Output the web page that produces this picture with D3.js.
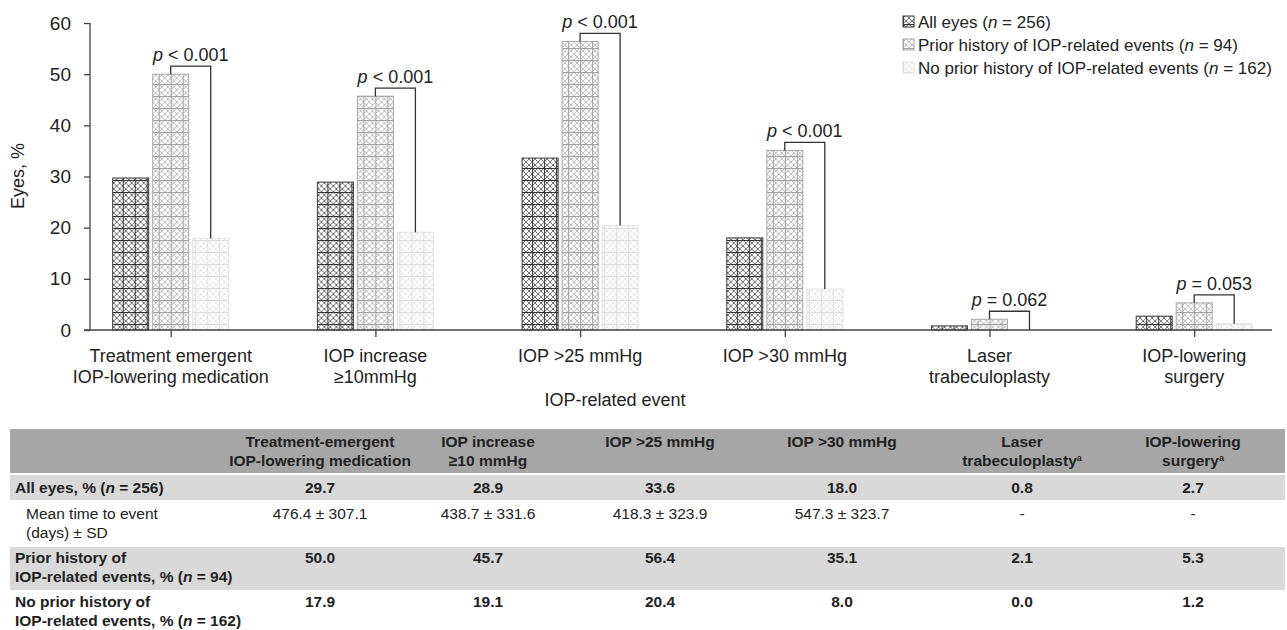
<!DOCTYPE html>
<html>
<head>
<meta charset="utf-8">
<script src="https://cdn.jsdelivr.net/npm/d3@7/dist/d3.min.js"></script>
<style>
  body { margin: 0; background: #fff; }
  svg { display: block; font-family: Arial, "Liberation Sans", sans-serif; }
</style>
</head>
<body>
<svg id="chart" width="1287" height="630"></svg>
<script>
const categories = [
  ['Treatment emergent', 'IOP-lowering medication'],
  ['IOP increase', '≥10mmHg'],
  ['IOP >25 mmHg'],
  ['IOP >30 mmHg'],
  ['Laser', 'trabeculoplasty'],
  ['IOP-lowering', 'surgery']
];
const seriesNames = ['All eyes', 'Prior history of IOP-related events', 'No prior history of IOP-related events'];
const seriesN = [256, 94, 162];
const allEyes = [29.7, 28.9, 33.6, 18.0, 0.8, 2.7];
const priorHistory = [50.0, 45.7, 56.4, 35.1, 2.1, 5.3];
const noPriorHistory = [17.9, 19.1, 20.4, 8.0, 0.0, 1.2];
const pSigns = ['<', '<', '<', '<', '=', '='];
const pNumbers = ['0.001', '0.001', '0.001', '0.001', '0.062', '0.053'];
const yTicks = [0, 10, 20, 30, 40, 50, 60];

const tableHeaders = [
  ['Treatment-emergent', 'IOP-lowering medication'],
  ['IOP increase', '≥10 mmHg'],
  ['IOP >25 mmHg'],
  ['IOP >30 mmHg'],
  ['Laser', 'trabeculoplasty'],
  ['IOP-lowering', 'surgery']
];
const headerFootnote = [false, false, false, false, true, true];
const meanTime = ['476.4 ± 307.1', '438.7 ± 331.6', '418.3 ± 323.9', '547.3 ± 323.7', '-', '-'];

const series = [allEyes, priorHistory, noPriorHistory];
const seriesLine = ['#333', '#a2a2a2', '#dedede'];
const seriesEdge = ['#3a3a3a', '#a8a8a8', '#e2e2e2'];
const ink = '#222';

const svg = d3.select('#chart');
const keys = categories.map((d, i) => i);

// scales
const x = d3.scalePoint().domain(keys).range([170.7, 1194.2]);
const xInner = d3.scaleBand().domain([0, 1, 2]).range([-58, 58]).paddingInner(0.1);
const y = d3.scaleLinear().domain([0, 60]).range([330, 23]);

// crosshatch patterns: lattice of diamonds over a 12px grid
const defs = svg.append('defs');
seriesLine.forEach((c, i) => {
  const p = defs.append('pattern')
    .attr('id', `hatch-${i}`)
    .attr('patternUnits', 'userSpaceOnUse')
    .attr('width', 12).attr('height', 12);
  p.append('rect').attr('width', 12).attr('height', 12).attr('fill', '#fff');
  p.append('path')
    .attr('d', 'M0,0L12,12M6,0L12,6M0,6L6,12M12,0L0,12M6,0L0,6M12,6L6,12')
    .attr('stroke', c).attr('stroke-width', 0.7);
  p.append('path').attr('d', 'M0,0.5H12M0.5,0V12')
    .attr('stroke', c).attr('stroke-width', 1);
});

// bars
const groups = svg.append('g').selectAll('g').data(keys).join('g')
  .attr('transform', d => `translate(${x(d)},0)`);
groups.selectAll('rect')
  .data(d => series.map((s, k) => ({ k, v: s[d] })))
  .join('rect')
  .attr('x', d => xInner(d.k))
  .attr('y', d => y(d.v))
  .attr('width', xInner.bandwidth())
  .attr('height', d => y(0) - y(d.v))
  .attr('fill', d => `url(#hatch-${d.k})`)
  .attr('stroke', d => d.v > 0 ? seriesEdge[d.k] : 'none')
  .attr('stroke-width', 1);

// p-value brackets
keys.forEach(i => {
  const x1 = x(i) + xInner(1) + xInner.bandwidth() / 2;
  const x2 = x(i) + xInner(2) + xInner.bandwidth() / 2;
  const top = y(priorHistory[i]) - 8;
  svg.append('path')
    .attr('d', `M${x1},${y(priorHistory[i])}V${top}H${x2}V${y(noPriorHistory[i])}`)
    .attr('fill', 'none').attr('stroke', '#333').attr('stroke-width', 1.3);
  const t = svg.append('text')
    .attr('x', (x1 + x2) / 2).attr('y', top - 5)
    .attr('text-anchor', 'middle')
    .attr('font-size', 18).attr('fill', ink);
  t.append('tspan').attr('font-style', 'italic').text('p');
  t.append('tspan').text(` ${pSigns[i]} ${pNumbers[i]}`);
});

// axes
const yAxis = svg.append('g').attr('transform', 'translate(90,0)')
  .call(d3.axisLeft(y).tickValues(yTicks).tickSize(6).tickPadding(13));
yAxis.select('.domain').attr('stroke', '#444').attr('stroke-width', 1.3).attr('d', 'M0,23V330');
yAxis.selectAll('.tick line').attr('stroke', '#444').attr('stroke-width', 1.3);
yAxis.selectAll('.tick text').attr('font-size', 19).attr('fill', ink)
  .attr('font-family', 'Arial, "Liberation Sans", sans-serif');

const xAxis = svg.append('g').attr('transform', 'translate(0,330)')
  .call(d3.axisBottom(x).tickSize(7).tickFormat(''));
xAxis.select('.domain').attr('stroke', '#444').attr('stroke-width', 1.3).attr('d', 'M84,0H1272');
xAxis.selectAll('.tick line').attr('stroke', '#444').attr('stroke-width', 1.3);

keys.forEach(i => {
  const t = svg.append('text').attr('x', x(i)).attr('y', 362)
    .attr('text-anchor', 'middle').attr('font-size', 18).attr('fill', ink);
  categories[i].forEach((line, j) => {
    t.append('tspan').attr('x', x(i)).attr('dy', j ? 21 : 0).text(line);
  });
});

svg.append('text').attr('x', 615).attr('y', 406).attr('text-anchor', 'middle')
  .attr('font-size', 18).attr('fill', ink).text('IOP-related event');
svg.append('text').attr('transform', 'translate(24,176) rotate(-90)')
  .attr('text-anchor', 'middle').attr('font-size', 18).attr('fill', ink).text('Eyes, %');

// legend
const legend = svg.append('g').attr('transform', 'translate(903,0)');
seriesNames.forEach((name, i) => {
  const yy = 28 + i * 23;
  legend.append('rect').attr('x', 0).attr('y', yy - 12).attr('width', 11).attr('height', 11)
    .attr('fill', `url(#hatch-${i})`).attr('stroke', seriesEdge[i]);
  const t = legend.append('text').attr('x', 15).attr('y', yy)
    .attr('font-size', 17).attr('fill', ink);
  t.append('tspan').text(`${name} (`);
  t.append('tspan').attr('font-style', 'italic').text('n');
  t.append('tspan').text(` = ${seriesN[i]})`);
});

// table
const table = svg.append('g');
const colX = [320, 488, 660, 842, 1022, 1193];
const tLeft = 10, tRight = 1285;
const fs = 15.5;
const bands = [
  { y0: 429, y1: 473, fill: '#a6a6a6' },
  { y0: 475, y1: 500, fill: '#d9d9d9' },
  { y0: 547, y1: 590, fill: '#d9d9d9' }
];
bands.forEach(b => {
  table.append('rect').attr('x', tLeft).attr('y', b.y0)
    .attr('width', tRight - tLeft).attr('height', b.y1 - b.y0).attr('fill', b.fill);
});

tableHeaders.forEach((lines, i) => {
  const t = table.append('text').attr('x', colX[i]).attr('y', 447)
    .attr('text-anchor', 'middle').attr('font-size', fs).attr('font-weight', 'bold').attr('fill', ink);
  lines.forEach((line, j) => {
    t.append('tspan').attr('x', colX[i]).attr('dy', j ? 19 : 0).text(line);
    if (j === lines.length - 1 && headerFootnote[i]) {
      t.append('tspan').attr('font-size', 9).attr('dy', -5).text('a');
    }
  });
});

function rowLabel(lines, yy, bold, indent) {
  const t = table.append('text').attr('y', yy).attr('font-size', fs)
    .attr('font-weight', bold ? 'bold' : 'normal').attr('fill', ink);
  lines.forEach((parts, j) => {
    parts.forEach((p, k) => {
      const s = t.append('tspan').text(p.text);
      if (k === 0) s.attr('x', tLeft + indent).attr('dy', j ? 19 : 0);
      if (p.italic) s.attr('font-style', 'italic');
    });
  });
}

function nParts(prefix, n) {
  return [{ text: prefix + ' (' }, { text: 'n', italic: true }, { text: ` = ${n})` }];
}

rowLabel([nParts('All eyes, %', seriesN[0])], 493, true, 5);
rowLabel([[{ text: 'Mean time to event' }], [{ text: '(days) ± SD' }]], 519, false, 16);
rowLabel([[{ text: 'Prior history of' }], nParts('IOP-related events, %', seriesN[1])], 563, true, 5);
rowLabel([[{ text: 'No prior history of' }], nParts('IOP-related events, %', seriesN[2])], 607, true, 5);

const rowValues = [
  { vals: allEyes.map(v => v.toFixed(1)), y: 493, bold: true },
  { vals: meanTime, y: 519, bold: false },
  { vals: priorHistory.map(v => v.toFixed(1)), y: 563, bold: true },
  { vals: noPriorHistory.map(v => v.toFixed(1)), y: 607, bold: true }
];
rowValues.forEach(r => {
  r.vals.forEach((v, i) => {
    table.append('text').attr('x', colX[i]).attr('y', r.y)
      .attr('text-anchor', 'middle').attr('font-size', fs)
      .attr('font-weight', r.bold ? 'bold' : 'normal').attr('fill', ink).text(v);
  });
});
</script>
</body>
</html>
